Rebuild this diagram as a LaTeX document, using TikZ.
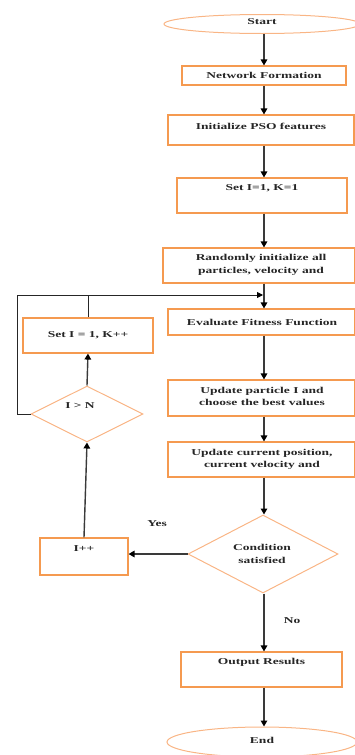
\documentclass[tikz,border=0pt]{standalone}
\usepackage{fontspec}
\setmainfont{Liberation Serif}[FakeStretch=1.5]
\usetikzlibrary{shapes.geometric,arrows.meta}
\definecolor{boxor}{HTML}{F59A50}
\definecolor{lightor}{HTML}{F9B585}
\definecolor{arrgray}{HTML}{3A3A3A}
\begin{document}
\begin{tikzpicture}[x=1pt,y=-1pt,
  box/.style={draw=boxor,line width=1.1pt,fill=white,inner sep=0pt},
  term/.style={draw=lightor,line width=1pt,ellipse,inner sep=0pt},
  dec/.style={draw=lightor,line width=1pt,diamond,inner sep=0pt,aspect=1.9},
  txt/.style={font=\fontsize{9}{12.5}\selectfont\bfseries,align=center,inner sep=0pt,text=black!85},
  arr/.style={draw=arrgray,line width=1.4pt,-{Triangle[length=6pt,width=6.5pt,color=black]}},
  lp/.style={draw=black!85,line width=0.9pt},
  lparr/.style={draw=black!85,line width=0.9pt,-{Triangle[length=6pt,width=6pt,color=black]}}]
\useasboundingbox (0,0) rectangle (355,755);
\coordinate (mx) at (264,0);
\coordinate (lx) at (17,0);
\coordinate (j) at (263,295);
% main column
\node[term,minimum width=196pt,minimum height=19pt] (start) at (262,24) {};
\node[txt] (startt) at (262,22) {Start};
\node[box,minimum width=164pt,minimum height=19pt] (nf) at (264,75.5) {};
\node[txt] (nft) at (264,75.5) {Network Formation};
\node[box,minimum width=186pt,minimum height=30pt] (ipso) at (261,130) {};
\node[txt] (ipsot) at (261,126.5) {Initialize PSO features};
\node[box,minimum width=170pt,minimum height=35pt] (set1) at (262,195.5) {};
\node[txt] (set1t) at (262,188) {Set I=1, K=1};
\node[box,minimum width=192pt,minimum height=35pt] (rand) at (259,265.5) {};
\node[txt] (randt) at (261,265) {Randomly initialize all\\particles, velocity and};
\node[box,minimum width=187pt,minimum height=26pt] (eval) at (261.5,322) {};
\node[txt] (evalt) at (262,322) {Evaluate Fitness Function};
\node[box,minimum width=187pt,minimum height=36pt] (upd1) at (261.5,398) {};
\node[txt] (upd1t) at (262,396.5) {Update particle I and\\choose the best values};
\node[box,minimum width=187pt,minimum height=35pt] (upd2) at (261.5,459.5) {};
\node[txt] (upd2t) at (262,459.5) {Update current position,\\current velocity and};
\node[dec,minimum width=150pt,minimum height=78pt] (cond) at (263,554) {};
\node[txt] (condt) at (262,554) {Condition\\satisfied};
\node[box,minimum width=161pt,minimum height=35pt] (out) at (261.5,669.5) {};
\node[txt] (outt) at (261.5,662) {Output Results};
\node[term,minimum width=190pt,minimum height=30pt] (end) at (262,742) {};
\node[txt] (endt) at (262,740) {End};
% left column
\node[box,minimum width=88pt,minimum height=37pt] (ipp) at (84,556.5) {};
\node[txt] (ippt) at (84,549) {I++};
\node[dec,minimum width=112pt,minimum height=56pt] (ign) at (87,414) {};
\node[txt] (ignt) at (80,406) {I > N};
\node[box,minimum width=130pt,minimum height=35pt] (setk) at (88,335.5) {};
\node[txt] (setkt) at (88,335) {Set I = 1, K++};
% labels
\node[txt] (yes) at (157,524) {Yes};
\node[txt] (no) at (292,621) {No};
% main arrows
\draw[arr] (start.south -| mx) -- (nf.north -| mx);
\draw[arr] (nf.south -| mx) -- (ipso.north -| mx);
\draw[arr] (ipso.south -| mx) -- (set1.north -| mx);
\draw[arr] (set1.south -| mx) -- (rand.north -| mx);
\draw[arr] (rand.south -| mx) -- (eval.north -| mx);
\draw[arr] (eval.south -| mx) -- (upd1.north -| mx);
\draw[arr] (upd1.south -| mx) -- (upd2.north -| mx);
\draw[arr] (upd2.south -| mx) -- (cond.north -| mx);
\draw[arr] (cond.south -| mx) -- (out.north -| mx);
\draw[arr] (out.south -| mx) -- (end.north -| mx);
% side branch
\draw[arr] (cond.west) -- (cond.west -| ipp.east);
\draw[arr] (ipp.north) -- (ign.south);
\draw[arr] (ign.north) -- (setk.south);
\draw[lparr] (ign.west) -- (ign.west -| lx) |- (j);
\draw[lp] (setk.north) -- (setk.north |- j);
\end{tikzpicture}
\end{document}
